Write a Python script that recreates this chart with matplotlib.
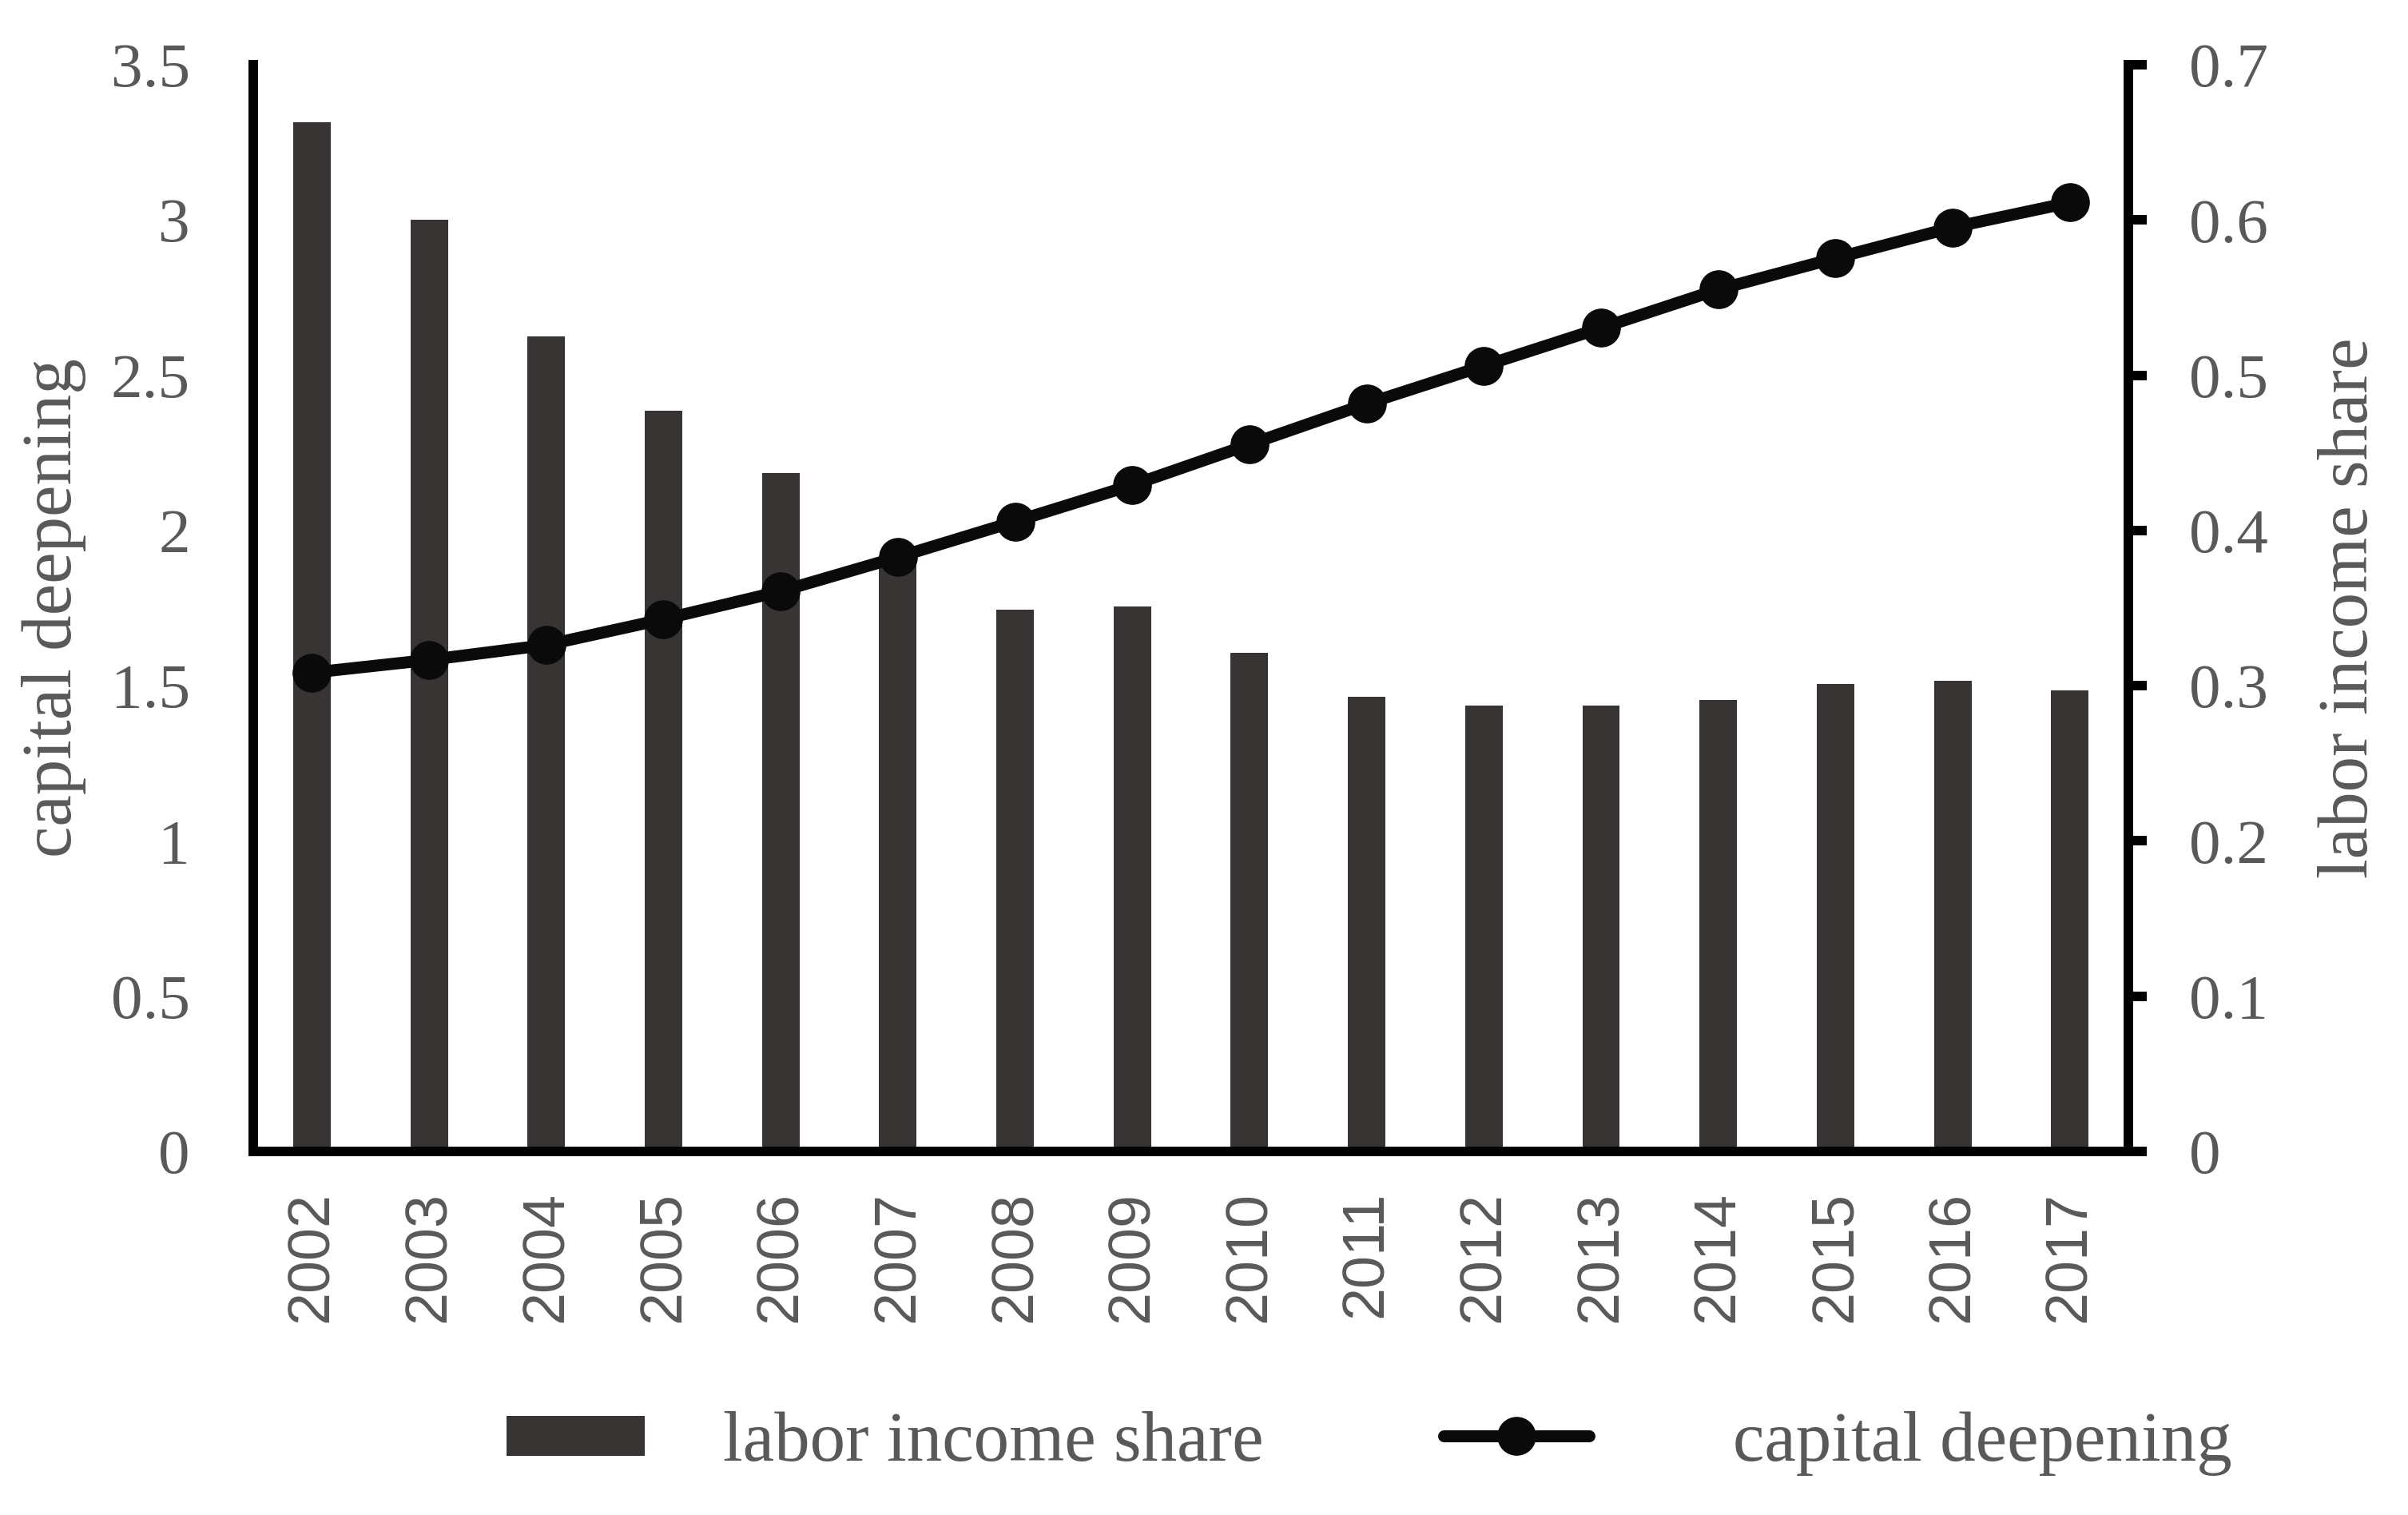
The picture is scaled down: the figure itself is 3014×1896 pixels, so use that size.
import matplotlib
matplotlib.use("Agg")
import matplotlib.pyplot as plt
import numpy as np

# data
years = ['2002', '2003', '2004', '2005', '2006', '2007', '2008', '2009',
         '2010', '2011', '2012', '2013', '2014', '2015', '2016', '2017']
labor_share = [0.663, 0.600, 0.525, 0.477, 0.437, 0.380, 0.349, 0.351,
               0.321, 0.293, 0.287, 0.287, 0.291, 0.301, 0.303, 0.297]
capital_deepening = [1.542, 1.583, 1.631, 1.714, 1.804, 1.914, 2.029, 2.146,
                     2.277, 2.408, 2.530, 2.652, 2.776, 2.877, 2.976, 3.056]
left_ticks = [0, 0.5, 1, 1.5, 2, 2.5, 3, 3.5]
right_ticks = [0, 0.1, 0.2, 0.3, 0.4, 0.5, 0.6, 0.7]

bar_color = '#383433'
text_color = '#595959'
serif = ['Liberation Serif', 'DejaVu Serif']
sans = ['Liberation Sans', 'DejaVu Sans']

fig = plt.figure(figsize=(30.14, 18.96), dpi=100)
ax = fig.add_axes([0.1052, 0.2400, 0.8839 - 0.1052, 0.9573 - 0.2400])
ax2 = ax.twinx()

x = np.arange(len(years))

# bars on the right axis (labor income share)
ax2.bar(x, labor_share, width=0.32, color=bar_color, label='labor income share')
ax2.set_ylim(0, 0.7)
ax2.set_yticks(right_ticks)
ax2.set_yticklabels(['0' if t == 0 else f'{t:g}' for t in right_ticks],
                    family=serif, fontsize=57, color=text_color)
ax2.tick_params(axis='y', length=16.5, width=8.6, pad=38, color='black')
ax2.set_ylabel('labor income share', family=serif, fontsize=64,
               color=text_color, labelpad=45)

# line on the left axis (capital deepening), drawn above the bars
ax.set_zorder(ax2.get_zorder() + 1)
ax.patch.set_visible(False)
ax.plot(x, capital_deepening, color='#0a0a0a', linewidth=10.8, marker='o',
        markersize=34, label='capital deepening', solid_capstyle='round')
ax.set_ylim(0, 3.5)
ax.set_xlim(-0.5, len(years) - 0.5)
ax.set_yticks(left_ticks)
ax.set_yticklabels([f'{t:g}' for t in left_ticks], family=serif,
                   fontsize=57, color=text_color)
ax.tick_params(axis='y', length=0, pad=57)
ax.set_ylabel('capital deepening', family=serif, fontsize=64,
              color=text_color, labelpad=22)

ax.set_xticks(x)
ax.set_xticklabels(years, rotation=90, family=sans, fontsize=53,
                   color=text_color)
ax.tick_params(axis='x', length=0, pad=36)

for a in (ax, ax2):
    a.spines['top'].set_visible(False)
    for s in ('left', 'bottom', 'right'):
        a.spines[s].set_linewidth(8.6)
        a.spines[s].set_color('black')
ax.spines['right'].set_visible(False)
ax2.spines['left'].set_visible(False)
ax2.spines['bottom'].set_visible(False)

# legend, two separate entries as in the original
h_bar, l_bar = ax2.get_legend_handles_labels()
h_line, l_line = ax.get_legend_handles_labels()
leg1 = fig.legend(h_bar, l_bar, loc='center left', bbox_to_anchor=(0.2104, 0.047),
                  frameon=False, borderpad=0, borderaxespad=0,
                  handlelength=1.95, handleheight=0.48, handletextpad=1.1,
                  prop={'family': serif, 'size': 64})
leg2 = fig.legend(h_line, l_line, loc='center left', bbox_to_anchor=(0.5995, 0.047),
                  frameon=False, borderpad=0, borderaxespad=0,
                  handlelength=2.05, handletextpad=2.02,
                  prop={'family': serif, 'size': 64})
for leg in (leg1, leg2):
    for t in leg.get_texts():
        t.set_color(text_color)

fig.savefig('out.png', dpi=100)
